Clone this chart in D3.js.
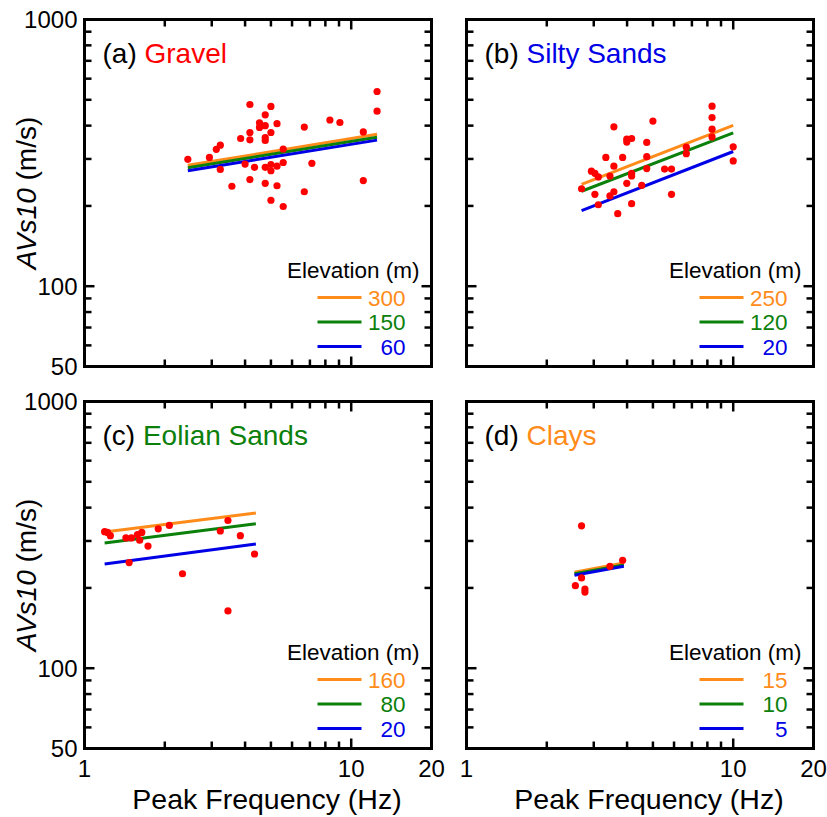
<!DOCTYPE html>
<html>
<head>
<meta charset="utf-8">
<script src="https://cdn.jsdelivr.net/npm/d3@7"></script>
<style>
  body { margin: 0; background: #fff; }
  svg { display: block; }
  text { font-family: "Liberation Sans", Arial, Helvetica, sans-serif; }
</style>
</head>
<body>
<svg id="chart" width="827" height="817"></svg>
<script>

// DATA

var xTickLabels = [1, 10, 20];
var yTickLabels = [50, 100, 1000];
var xMinor = [2, 3, 4, 5, 6, 7, 8, 9];
var yMinor = [60, 70, 80, 90, 200, 300, 400, 500, 600, 700, 800, 900];

// [peak frequency (Hz), AVs10 (m/s)]
var gravelPts = [
  [2.44, 299], [2.94, 304], [3.12, 326], [3.23, 338], [3.23, 274], [3.57, 237],
  [3.85, 358], [4.0, 287], [4.17, 480], [4.17, 377], [4.17, 354], [4.17, 251],
  [4.34, 279], [4.53, 410], [4.53, 394], [4.76, 439], [4.76, 400], [4.76, 361],
  [4.76, 352], [4.76, 279], [4.76, 243], [5.0, 472], [5.0, 377], [5.0, 286],
  [5.0, 271], [5.0, 210], [5.27, 407], [5.27, 282], [5.27, 238], [5.56, 327],
  [5.56, 291], [5.56, 199], [6.67, 395], [6.67, 226], [7.12, 289], [8.32, 420],
  [9.07, 411], [11.1, 379], [11.1, 249], [12.5, 537], [12.5, 453]
];
var siltyPts = [
  [2.70, 232], [2.94, 270], [3.03, 265], [3.12, 257], [3.03, 221], [3.12, 202],
  [3.33, 304], [3.45, 259], [3.45, 218], [3.57, 396], [3.57, 282], [3.57, 226],
  [3.69, 187], [3.85, 304], [3.99, 356], [3.99, 347], [4.16, 358], [3.99, 243],
  [4.16, 265], [4.16, 259], [4.16, 204], [4.54, 239], [4.74, 346], [4.74, 306],
  [4.74, 276], [5.0, 416], [5.53, 275], [5.87, 275], [5.87, 221], [6.67, 332],
  [6.67, 314], [8.33, 473], [8.33, 429], [8.33, 388], [8.33, 363], [10.0, 333],
  [10.0, 295]
];
var eolianPts = [
  [1.19, 325], [1.22, 323], [1.25, 314], [1.43, 308], [1.50, 308], [1.58, 317],
  [1.64, 323], [1.61, 302], [1.73, 287], [1.47, 249], [1.89, 333], [2.08, 343],
  [2.33, 226], [3.23, 327], [3.45, 358], [3.84, 314], [3.45, 164], [4.34, 268]
];
var clayPts = [
  [2.70, 342], [3.45, 241], [3.85, 254], [2.70, 218], [2.56, 204], [2.78, 198],
  [2.78, 193]
];

// fitted lines: frequency span, then AVs10 at both ends for each elevation
var gravelElev = [300, 150, 60];
var gravelFitF = [2.44, 12.5];
var gravelFitV = [[284, 371], [278, 362], [271, 353]];

var siltyElev = [250, 120, 20];
var siltyFitF = [2.70, 10.0];
var siltyFitV = [[241, 401], [227, 376], [192, 320]];

var eolianElev = [160, 80, 20];
var eolianFitF = [1.19, 4.39];
var eolianFitV = [[324, 382], [295, 348], [246, 292]];

var clayElev = [15, 10, 5];
var clayFitF = [2.54, 3.89];
var clayFitV = [[229, 248], [226, 244], [223, 241]];

var lineColors = ["#ff8c1a", "#0b800b", "#0000e6"];
var dotColor = "#ff0000";

var panels = [
  { tag: "(a) ", name: "Gravel", nameColor: "#ff0000", col: 0, row: 0,
    pts: gravelPts, elev: gravelElev, fitF: gravelFitF, fitV: gravelFitV },
  { tag: "(b) ", name: "Silty Sands", nameColor: "#0000e6", col: 1, row: 0,
    pts: siltyPts, elev: siltyElev, fitF: siltyFitF, fitV: siltyFitV },
  { tag: "(c) ", name: "Eolian Sands", nameColor: "#0b800b", col: 0, row: 1,
    pts: eolianPts, elev: eolianElev, fitF: eolianFitF, fitV: eolianFitV },
  { tag: "(d) ", name: "Clays", nameColor: "#ff8c1a", col: 1, row: 1,
    pts: clayPts, elev: clayElev, fitF: clayFitF, fitV: clayFitV }
];

// LAYOUT

var svg = d3.select("#chart");
var W = 347, H = 347;
var panelLeft = [84.5, 466.5], panelTop = [19.5, 401.5];

panels.forEach(function(p) {
  var x0 = panelLeft[p.col], y0 = panelTop[p.row];

  var x = d3.scaleLog().domain([1, 20]).range([x0, x0 + W]);
  var y = d3.scaleLog().domain([50, 1000]).range([y0 + H, y0]);

  var g = svg.append("g");

  // ticks, all pointing inward on the 4 sides
  var tk = g.append("g").attr("stroke", "#000").attr("stroke-width", 2.5);
  function xTick(v, len) {
    tk.append("line").attr("x1", x(v)).attr("x2", x(v)).attr("y1", y0).attr("y2", y0 + len);
    tk.append("line").attr("x1", x(v)).attr("x2", x(v)).attr("y1", y0 + H).attr("y2", y0 + H - len);
  }
  function yTick(v, len) {
    tk.append("line").attr("y1", y(v)).attr("y2", y(v)).attr("x1", x0).attr("x2", x0 + len);
    tk.append("line").attr("y1", y(v)).attr("y2", y(v)).attr("x1", x0 + W).attr("x2", x0 + W - len);
  }
  xMinor.forEach(function(v) { xTick(v, 7); });
  xTick(10, 10);
  yMinor.forEach(function(v) { yTick(v, 7); });
  yTick(100, 10);

  // fit lines
  var line = d3.line().x(function(d) { return x(d[0]); }).y(function(d) { return y(d[1]); });
  p.fitV.forEach(function(vv, i) {
    g.append("path")
      .datum([[p.fitF[0], vv[0]], [p.fitF[1], vv[1]]])
      .attr("d", line)
      .attr("fill", "none")
      .attr("stroke", lineColors[i])
      .attr("stroke-width", 3);
  });

  // dots
  g.append("g").selectAll("circle")
    .data(p.pts)
    .enter().append("circle")
      .attr("cx", function(d) { return x(d[0]); })
      .attr("cy", function(d) { return y(d[1]); })
      .attr("r", 3.6)
      .attr("fill", dotColor);

  // frame
  g.append("rect")
    .attr("x", x0).attr("y", y0).attr("width", W).attr("height", H)
    .attr("fill", "none").attr("stroke", "#000").attr("stroke-width", 3);

  // panel title
  var t = g.append("text")
    .attr("x", x0 + 18).attr("y", y0 + 43)
    .attr("font-size", 28);
  t.append("tspan").attr("fill", "#000").text(p.tag);
  t.append("tspan").attr("fill", p.nameColor).text(p.name);

  // legend
  var rx = x0 + W;
  g.append("text")
    .attr("x", rx - 12).attr("y", y0 + 258)
    .attr("text-anchor", "end")
    .attr("font-size", 22.5)
    .text("Elevation (m)");

  var leg = g.append("g").selectAll("g")
    .data(p.elev)
    .enter().append("g")
      .attr("transform", function(d, i) { return "translate(0," + (y0 + 278 + i * 24.5) + ")"; });
  leg.append("line")
    .attr("x1", rx - 114).attr("x2", rx - 70)
    .attr("stroke", function(d, i) { return lineColors[i]; })
    .attr("stroke-width", 3);
  leg.append("text")
    .attr("x", rx - 26).attr("y", 8)
    .attr("text-anchor", "end")
    .attr("font-size", 22.5)
    .attr("fill", function(d, i) { return lineColors[i]; })
    .text(function(d) { return d; });

  // axis labels
  if (p.col == 0) {
    g.append("g").selectAll("text")
      .data(yTickLabels)
      .enter().append("text")
        .attr("x", x0 - 7)
        .attr("y", function(d) { return y(d); })
        .attr("dy", "0.36em")
        .attr("text-anchor", "end")
        .attr("font-size", 24)
        .text(function(d) { return d; });

    var yt = g.append("text")
      .attr("transform", "translate(" + (x0 - 48.5) + "," + (y0 + H / 2) + ") rotate(-90)")
      .attr("text-anchor", "middle")
      .attr("font-size", 28);
    yt.append("tspan").attr("font-style", "italic").text("AVs10");
    yt.append("tspan").text(" (m/s)");
  }
  if (p.row == 1) {
    g.append("g").selectAll("text")
      .data(xTickLabels)
      .enter().append("text")
        .attr("x", function(d) { return x(d); })
        .attr("y", y0 + H + 28)
        .attr("text-anchor", "middle")
        .attr("font-size", 24)
        .text(function(d) { return d; });

    g.append("text")
      .attr("x", x0 + W / 2 + 9)
      .attr("y", y0 + H + 60)
      .attr("text-anchor", "middle")
      .attr("font-size", 28.5)
      .text("Peak Frequency (Hz)");
  }
});

</script>
</body>
</html>
